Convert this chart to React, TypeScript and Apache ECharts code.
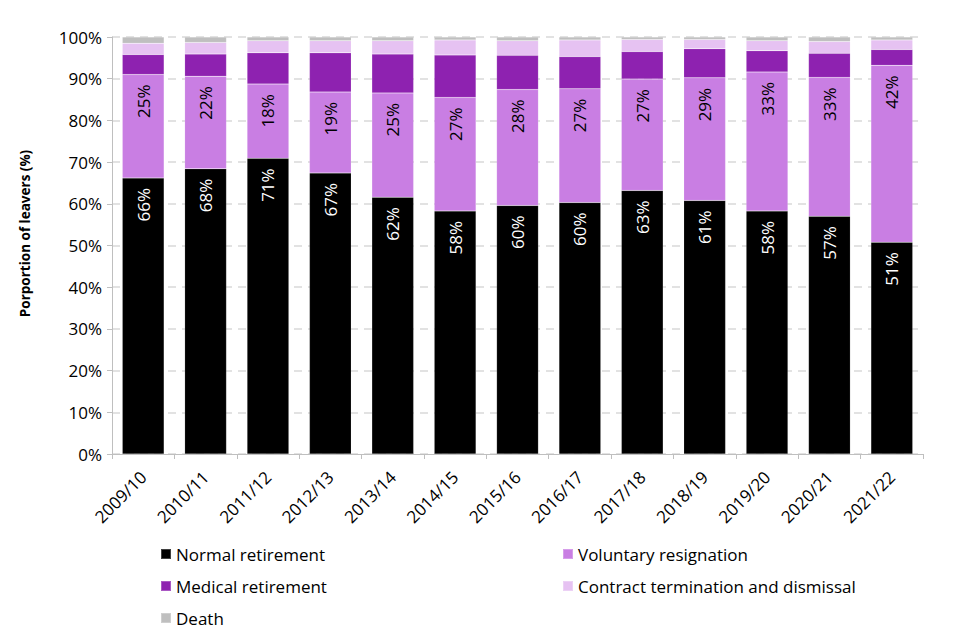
import React, { useEffect, useRef } from "react";
import * as echarts from "echarts";

const categories = [
  "2009/10", "2010/11", "2011/12", "2012/13", "2013/14", "2014/15", "2015/16",
  "2016/17", "2017/18", "2018/19", "2019/20", "2020/21", "2021/22",
];
const normalRetirement = [66.2, 68.4, 70.9, 67.4, 61.6, 58.3, 59.6, 60.3, 63.2, 60.8, 58.3, 57.0, 50.8];
const voluntaryResignation = [24.8, 22.2, 17.8, 19.4, 25.0, 27.2, 27.8, 27.3, 26.7, 29.4, 33.3, 33.3, 42.4];
const medicalRetirement = [4.8, 5.3, 7.5, 9.4, 9.3, 10.2, 8.2, 7.7, 6.6, 7.0, 5.1, 5.8, 3.8];
const contractTermination = [2.7, 2.8, 2.9, 2.9, 3.2, 3.6, 3.5, 4.0, 2.9, 2.2, 2.4, 2.8, 2.3];
const death = [1.5, 1.3, 0.9, 0.9, 0.9, 0.7, 0.9, 0.7, 0.6, 0.6, 0.9, 1.1, 0.7];
const yTicks = [0, 10, 20, 30, 40, 50, 60, 70, 80, 90, 100];

const FONT = "'Open Sans', 'Noto Sans', sans-serif";

export default function App() {
  const ref = useRef<HTMLDivElement>(null);
  useEffect(() => {
    document.body.style.margin = "0";
    if (!ref.current) return;
    const chart = echarts.init(ref.current, undefined, { renderer: "svg" });
    const label = (color: string) => ({
      show: true,
      position: "insideTop",
      distance: 10,
      rotate: 90,
      align: "right",
      verticalAlign: "middle",
      color,
      fontSize: 17,
      fontFamily: FONT,
      formatter: (p: any) => Math.round(p.value) + "%",
    });
    const mk = (name: string, data: number[], color: string, lbl?: any) => ({
      name,
      type: "bar",
      stack: "total",
      data,
      barCategoryGap: "33%",
      itemStyle: { color, borderColor: "rgba(255,255,255,0.25)", borderWidth: 0.5 },
      label: lbl || { show: false },
      emphasis: { disabled: true },
    });
    const legendText = { fontSize: 17, color: "#000", fontFamily: FONT, lineHeight: 20 };
    chart.setOption({
      animation: false,
      textStyle: { fontFamily: FONT },
      grid: { left: 112, right: 37, top: 37, bottom: 186 },
      legend: [
        {
          data: ["Normal retirement", "Medical retirement", "Death"],
          orient: "vertical",
          left: 155,
          top: 539,
          itemWidth: 10,
          itemHeight: 10,
          itemGap: 12,
          icon: "rect",
          textStyle: legendText,
        },
        {
          data: ["Voluntary resignation", "Contract termination and dismissal"],
          orient: "vertical",
          left: 557,
          top: 539,
          itemWidth: 10,
          itemHeight: 10,
          itemGap: 12,
          icon: "rect",
          textStyle: legendText,
        },
      ],
      xAxis: {
        type: "category",
        data: categories,
        axisLine: { show: true, lineStyle: { color: "#BFBFBF" } },
        axisTick: { show: true, length: 5, lineStyle: { color: "#BFBFBF" } },
        axisLabel: { rotate: 45, fontSize: 17, color: "#000", margin: 20, fontFamily: FONT },
      },
      yAxis: {
        type: "value",
        min: yTicks[0],
        max: yTicks[yTicks.length - 1],
        interval: 10,
        name: "Porportion of leavers (%)",
        nameLocation: "middle",
        nameGap: 80,
        nameTextStyle: {
          fontSize: 13.5,
          fontWeight: "bold",
          color: "#000",
          fontFamily: FONT,
          padding: [0, 0, 0, 24],
        },
        axisLine: { show: true, lineStyle: { color: "#BFBFBF" } },
        axisTick: { show: true, length: 5, lineStyle: { color: "#BFBFBF" } },
        axisLabel: { formatter: "{value}%", fontSize: 17, color: "#000", margin: 10, fontFamily: FONT },
        splitLine: { show: true, lineStyle: { color: "#D9D9D9", type: [8, 6], width: 1.5 } },
      },
      series: [
        mk("Normal retirement", normalRetirement, "#000000", label("#FFFFFF")),
        mk("Voluntary resignation", voluntaryResignation, "#C97EE3", label("#000000")),
        mk("Medical retirement", medicalRetirement, "#8E22B0"),
        mk("Contract termination and dismissal", contractTermination, "#E6C2F2"),
        mk("Death", death, "#BFBFBF"),
      ],
    });
    return () => chart.dispose();
  }, []);
  return <div ref={ref} style={{ width: 960, height: 640 }} />;
}
